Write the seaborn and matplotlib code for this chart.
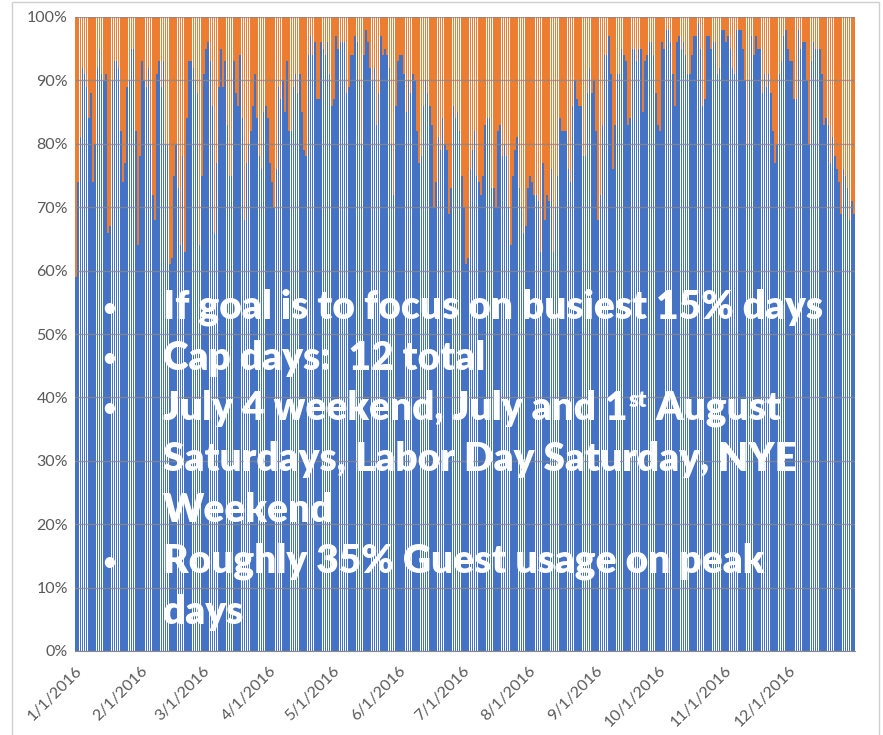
import matplotlib
matplotlib.use('Agg')
import matplotlib.pyplot as plt
import matplotlib.patches as mpatches
import pandas as pd
import seaborn as sns

# participação de membros no uso diário (%), um valor por dia
jan = [59, 74, 81, 92, 91, 89, 84, 88, 74, 80, 92, 95, 91, 90, 91, 66, 67, 90, 93, 93,
       92, 82, 74, 77, 89, 90, 95, 95, 82, 64, 78]
fev = [93, 90, 89, 92, 80, 72, 68, 91, 93, 89, 93, 80, 80, 61, 62, 75, 80, 73, 64, 78,
       63, 84, 93, 93, 92, 90, 88, 64, 75]
mar = [91, 95, 96, 93, 86, 66, 77, 89, 95, 89, 93, 83, 75, 75, 93, 88, 86, 94, 84, 68,
       77, 80, 82, 86, 91, 84, 78, 76, 85, 86, 84]
abr = [77, 74, 70, 76, 89, 87, 90, 85, 93, 82, 82, 89, 91, 88, 91, 85, 79, 78, 94, 97,
       94, 96, 87, 87, 96, 95, 94, 96, 91, 86]
mai = [87, 97, 95, 96, 96, 96, 88, 89, 94, 94, 97, 96, 90, 80, 94, 98, 96, 92, 90, 92,
       83, 88, 97, 94, 95, 94, 92, 80, 72, 86, 93]
jun = [94, 94, 91, 85, 90, 88, 91, 90, 82, 77, 78, 86, 90, 88, 86, 83, 70, 74, 81, 79,
       84, 80, 79, 69, 73, 86, 84, 85, 82, 75]
jul = [70, 61, 62, 76, 79, 82, 75, 74, 72, 75, 83, 84, 84, 73, 73, 70, 82, 83, 78, 80,
       78, 70, 64, 75, 79, 81, 73, 70, 66, 67, 73]
ago = [75, 74, 72, 72, 71, 63, 77, 68, 72, 71, 76, 63, 70, 75, 84, 82, 82, 82, 76, 74,
       86, 90, 87, 86, 86, 78, 78, 88, 92, 88, 90]
set_ = [82, 68, 72, 83, 94, 94, 97, 91, 76, 83, 91, 91, 95, 94, 93, 83, 84, 95, 95, 93,
        95, 95, 85, 93, 94, 96, 96, 94, 88, 83]
out = [82, 96, 95, 98, 98, 96, 91, 86, 96, 97, 95, 96, 94, 91, 91, 94, 97, 97, 99, 95,
       86, 87, 97, 97, 95, 96, 96, 91, 92, 98, 98]
nov = [96, 97, 95, 92, 91, 98, 98, 98, 95, 90, 80, 90, 97, 94, 97, 95, 95, 88, 91, 89,
       91, 88, 82, 77, 80, 91, 93, 97, 98, 95]
dez = [93, 93, 87, 87, 98, 95, 96, 96, 90, 80, 93, 96, 95, 95, 95, 91, 83, 84, 83, 77,
       81, 78, 76, 74, 69, 76, 75, 73, 68, 71, 69]

rotulos_meses = ['1/1/2016', '2/1/2016', '3/1/2016', '4/1/2016', '5/1/2016', '6/1/2016',
                 '7/1/2016', '8/1/2016', '9/1/2016', '10/1/2016', '11/1/2016', '12/1/2016']

meses = [jan, fev, mar, abr, mai, jun, jul, ago, set_, out, nov, dez]
membros = [v for m in meses for v in m]

df = pd.DataFrame({
    'dia': pd.date_range('2016-01-01', periods=len(membros), freq='D'),
    'membros': membros,
})
df['pos'] = range(len(df))
df['total'] = 100  # barra laranja (convidados) completa a pilha até 100%

azul = '#4472C4'
laranja = '#ED7D31'
cinza = '#898989'

sns.set_style('white')
plt.rcParams['font.family'] = ['Lato', 'DejaVu Sans']

fig = plt.figure(figsize=(8.83, 7.35), dpi=100)
ax = fig.add_axes([75 / 883, 1 - 651 / 735, 780 / 883, 634 / 735])

sns.barplot(data=df, x='pos', y='total', color=laranja, saturation=1, width=0.72,
            native_scale=True, errorbar=None, linewidth=0, ax=ax)
sns.barplot(data=df, x='pos', y='membros', color=azul, saturation=1, width=0.72,
            native_scale=True, errorbar=None, linewidth=0, ax=ax)

ax.set_xlim(-0.5, len(df) - 0.5)
ax.set_ylim(0, 100)
ax.set_xlabel('')
ax.set_ylabel('')

ax.set_yticks(range(0, 101, 10))
ax.set_yticklabels([f'{v}%' for v in range(0, 101, 10)], fontsize=11.5, color='#595959')
ax.tick_params(axis='y', length=0, pad=5)

inicio_mes = df.index[df['dia'].dt.day == 1].tolist()
ax.set_xticks([i - 0.5 for i in inicio_mes] + [len(df) - 0.5])
ax.set_xticklabels(rotulos_meses + [''], rotation=45, ha='right', rotation_mode='anchor',
                   fontsize=11.5, color='#595959')
ax.tick_params(axis='x', length=6, color=cinza, width=1, pad=3)

ax.grid(True, axis='y', color=cinza, linewidth=1, alpha=0.8)
ax.set_axisbelow(False)
for lado in ['top', 'right', 'left']:
    ax.spines[lado].set_visible(False)
ax.spines['bottom'].set_color(cinza)

# moldura da área do gráfico
fig.patches.append(mpatches.Rectangle((12 / 883, -0.01), 867 / 883, 1 - 2 / 735 + 0.01,
                                      transform=fig.transFigure, fill=False,
                                      edgecolor='#d0d0d0', linewidth=1))

# texto sobreposto
estilo = dict(color='white', fontsize=28, fontweight='heavy', va='baseline')
estilo_bala = dict(color='white', fontsize=17, fontweight='bold', va='center', ha='center')
x_bala = 109 / 883
x_texto = 163 / 883


def base(px):
    return 1 - px / 735


linhas = [
    (319, True, 'If goal is to focus on busiest 15% days'),
    (370, True, 'Cap days:  12 total'),
    (471, False, 'Saturdays, Labor Day Saturday, NYE'),
    (522, False, 'Weekend'),
    (573, True, 'Roughly 35% Guest usage on peak'),
    (624, False, 'days'),
]
for y, bala, texto in linhas:
    if bala:
        fig.text(x_bala, base(y - 11), '•', **estilo_bala)
    fig.text(x_texto, base(y), texto, **estilo)

fig.text(x_bala, base(420 - 11), '•', **estilo_bala)
t1 = fig.text(x_texto, base(420), 'July 4 weekend, July and 1', **estilo)
t2 = ax.annotate('st', xy=(1, 1), xycoords=t1, xytext=(1, 0), textcoords='offset points',
                 va='top', ha='left', color='white', fontsize=16, fontweight='heavy')
ax.annotate(' August', xy=(1, 0), xycoords=(t2, t1), va='bottom', ha='left',
            color='white', fontsize=28, fontweight='heavy')

fig.savefig('out.png', dpi=100)
